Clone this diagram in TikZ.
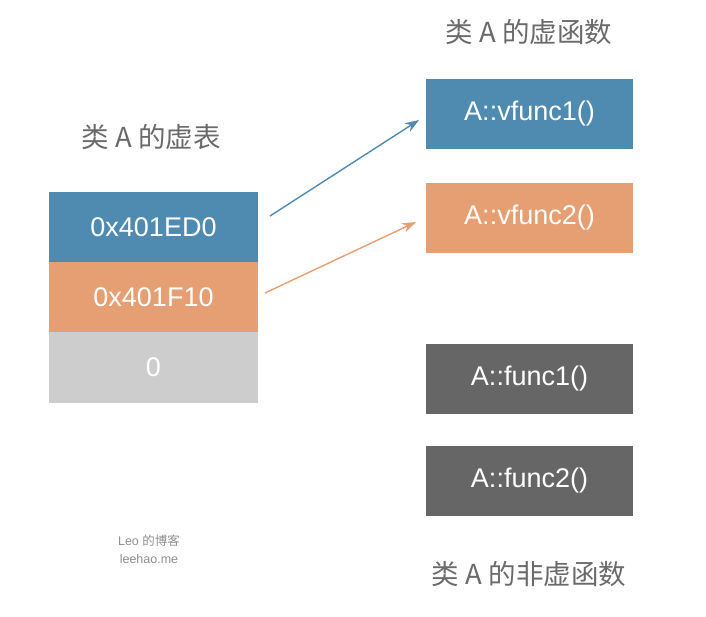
\documentclass[tikz,border=0pt]{standalone}
\usepackage{fontspec}
\setmainfont{Liberation Sans}
\newfontfamily\cjk{Noto Sans CJK SC}
\usetikzlibrary{arrows.meta}
\definecolor{cblue}{HTML}{4F8AB0}
\definecolor{corange}{HTML}{E69F72}
\definecolor{clight}{HTML}{CDCDCD}
\definecolor{cdark}{HTML}{666666}
\definecolor{ctitle}{HTML}{6A6A6A}
\begin{document}
\begin{tikzpicture}[x=1pt,y=-1pt,
  cell/.style={draw=none,minimum width=209pt,minimum height=70.5pt,inner sep=0pt,text=white,font=\fontsize{27}{30}\selectfont},
  fbox/.style={minimum width=207pt,minimum height=70pt,inner sep=0pt,text=white,font=\fontsize{27}{30}\selectfont},
  title/.style={text=ctitle,font=\cjk\fontsize{27.5}{30}\selectfont},
  arr/.style={-{Stealth[length=14pt,width=10pt]},line width=1.4pt}]
\useasboundingbox (0,0) rectangle (706,616);
\node[cell,fill=cblue] (r1) at (153.5,227) {0x401ED0};
\node[cell,fill=corange] (r2) at (153.5,297.5) {0x401F10};
\node[cell,fill=clight] (r3) at (153.5,367.5) {0};
\node[fbox,fill=cblue] (v1) at (529.5,113.5) {A::vfunc1()};
\node[fbox,fill=corange] (v2) at (529.5,217.5) {A::vfunc2()};
\node[fbox,fill=cdark] (f1) at (529.5,378.5) {A::func1()};
\node[fbox,fill=cdark] (f2) at (529.5,480.5) {A::func2()};
\node[title] (t1) at (151,137) {类 A 的虚表};
\node[title] (t2) at (529,32) {类 A 的虚函数};
\node[title] (t3) at (529,574) {类 A 的非虚函数};
\node[text=ctitle!75,font=\fontsize{12.5}{18}\selectfont,align=center] (wm) at (149,549) {Leo {\cjk 的博客}\\leehao.me};
\coordinate (a1s) at (270,216);
\coordinate (a1e) at (419,120);
\coordinate (a2s) at (265,293);
\coordinate (a2e) at (416,222);
\draw[arr,cblue] (a1s) -- (a1e);
\draw[arr,corange] (a2s) -- (a2e);
\end{tikzpicture}
\end{document}
